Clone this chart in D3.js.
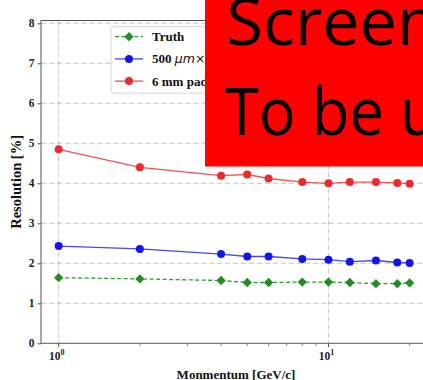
<!DOCTYPE html>
<html>
<head>
<meta charset="utf-8">
<script src="https://cdn.jsdelivr.net/npm/d3@7"></script>
<style>
  html, body { margin: 0; padding: 0; background: #fff; }
  svg { display: block; }
</style>
</head>
<body>
<svg id="chart" width="423" height="380"></svg>
<script>
// Momentum points (GeV/c) and resolution (%) for each readout option
const momentum = [1, 2, 4, 5, 6, 8, 10, 12, 15, 18, 20];
const truthRes = [1.64, 1.61, 1.57, 1.52, 1.52, 1.53, 1.53, 1.52, 1.49, 1.49, 1.51];
const pixelRes = [2.43, 2.36, 2.23, 2.17, 2.17, 2.11, 2.09, 2.04, 2.07, 2.02, 2.01];
const padRes   = [4.85, 4.40, 4.19, 4.22, 4.12, 4.03, 4.00, 4.03, 4.03, 4.01, 3.99];
const yTicks = [0, 1, 2, 3, 4, 5, 6, 7, 8];
const xMajorTicks = [1, 10];
const seriesNames = ["Truth", "500 \u03bcm\u00d7500 \u03bcm pixel", "6 mm pad"];

const svg = d3.select("#chart");
const plot = { left: 41, right: 431, top: 20.5, bottom: 343.3 };

const x = d3.scaleLog().domain([0.86, 24]).range([plot.left, plot.right]);
const y = d3.scaleLinear().domain([0, 8.07]).range([plot.bottom, plot.top]);

const serif = "'Liberation Serif', 'DejaVu Serif', serif";

// grid
const grid = svg.append("g").attr("stroke", "#b8b8b8").attr("stroke-width", 0.8)
  .attr("stroke-dasharray", "5,3");
grid.selectAll("line.h").data(yTicks.filter(d => d > 0)).join("line")
  .attr("x1", plot.left).attr("x2", plot.right)
  .attr("y1", d => y(d)).attr("y2", d => y(d));
grid.selectAll("line.v").data(xMajorTicks).join("line")
  .attr("x1", d => x(d)).attr("x2", d => x(d))
  .attr("y1", plot.top).attr("y2", plot.bottom);

// frame
svg.append("rect")
  .attr("x", plot.left).attr("y", plot.top)
  .attr("width", plot.right - plot.left).attr("height", plot.bottom - plot.top)
  .attr("fill", "none").attr("stroke", "#555").attr("stroke-width", 1);

// y axis
const yAxis = svg.append("g").attr("transform", `translate(${plot.left},0)`)
  .call(d3.axisLeft(y).tickValues(yTicks).tickFormat(d3.format("d")).tickSize(3.5).tickPadding(3));
yAxis.select(".domain").remove();
yAxis.selectAll("line").attr("stroke", "#555");
yAxis.selectAll("text").attr("font-family", serif).attr("font-weight", "bold")
  .attr("font-size", 11.5).attr("fill", "#222");

// x axis: minor ticks plus 10^n labels
const minorTicks = [2, 3, 4, 5, 6, 7, 8, 9, 20];
const xAxis = svg.append("g").attr("transform", `translate(0,${plot.bottom})`);
xAxis.selectAll("line.minor").data(minorTicks).join("line")
  .attr("x1", d => x(d)).attr("x2", d => x(d)).attr("y1", 0).attr("y2", 2.5)
  .attr("stroke", "#555").attr("stroke-width", 0.8);
xAxis.selectAll("line.major").data(xMajorTicks).join("line")
  .attr("x1", d => x(d)).attr("x2", d => x(d)).attr("y1", 0).attr("y2", 4)
  .attr("stroke", "#555");
const xl = xAxis.selectAll("text.major").data(xMajorTicks).join("text")
  .attr("x", d => x(d) - 2).attr("y", 17)
  .attr("text-anchor", "middle")
  .attr("font-family", serif).attr("font-weight", "bold").attr("font-size", 11.5).attr("fill", "#222");
xl.append("tspan").text("10");
xl.append("tspan").attr("font-size", 8).attr("dy", -5).text(d => Math.round(Math.log10(d)));

// axis titles
svg.append("text")
  .attr("x", (plot.left + plot.right) / 2).attr("y", 378.5)
  .attr("text-anchor", "middle")
  .attr("font-family", serif).attr("font-weight", "bold").attr("font-size", 13).attr("fill", "#111")
  .text("Monmentum [GeV/c]");
svg.append("text")
  .attr("transform", `translate(21,${(plot.top + plot.bottom) / 2}) rotate(-90)`)
  .attr("text-anchor", "middle")
  .attr("font-family", serif).attr("font-weight", "bold").attr("font-size", 14.5).attr("fill", "#111")
  .text("Resolution [%]");

// series
const series = [
  { name: seriesNames[0], values: truthRes, line: "#2f9b32", fill: "#1f8f22", dash: "4,2.5", shape: d3.symbolDiamond2, size: 55 },
  { name: seriesNames[1], values: pixelRes, line: "#4646f2", fill: "#1414ee", dash: null, shape: d3.symbolCircle, size: 50 },
  { name: seriesNames[2], values: padRes, line: "#ee5252", fill: "#ea2a2e", dash: null, shape: d3.symbolCircle, size: 50 }
];

const line = d3.line().x(d => x(d[0])).y(d => y(d[1]));
series.forEach(s => {
  const pts = momentum.map((m, i) => [m, s.values[i]]);
  svg.append("path").datum(pts)
    .attr("d", line).attr("fill", "none")
    .attr("stroke", s.line).attr("stroke-width", 1.3)
    .attr("stroke-dasharray", s.dash);
  svg.append("g").selectAll("path").data(pts).join("path")
    .attr("transform", d => `translate(${x(d[0])},${y(d[1])})`)
    .attr("d", d3.symbol(s.shape, s.size))
    .attr("fill", s.fill);
});

// legend
const lg = svg.append("g");
lg.append("rect").attr("x", 111).attr("y", 26.7).attr("width", 200).attr("height", 66.5)
  .attr("rx", 3).attr("fill", "#fff").attr("fill-opacity", 0.9)
  .attr("stroke", "#d6d6d6").attr("stroke-width", 1);
series.forEach((s, i) => {
  const cy = 36.7 + i * 22.2;
  lg.append("line").attr("x1", 115).attr("x2", 143).attr("y1", cy).attr("y2", cy)
    .attr("stroke", s.line).attr("stroke-width", 1.3).attr("stroke-dasharray", s.dash);
  lg.append("path").attr("transform", `translate(129,${cy})`)
    .attr("d", d3.symbol(s.shape, s.size)).attr("fill", s.fill);
  const t = lg.append("text").attr("x", 152).attr("y", cy + 4.5)
    .attr("font-family", serif).attr("font-weight", "bold").attr("font-size", 13).attr("fill", "#111");
  if (i === 1) {
    t.append("tspan").text("500 ");
    t.append("tspan").attr("font-family", "'DejaVu Sans', sans-serif").attr("font-style", "italic")
      .attr("font-weight", "normal").attr("font-size", 12.5).text("\u03bcm\u00d7");
    t.append("tspan").text("500 ");
    t.append("tspan").attr("font-family", "'DejaVu Sans', sans-serif").attr("font-style", "italic")
      .attr("font-weight", "normal").attr("font-size", 12.5).text("\u03bcm");
    t.append("tspan").text(" pixel");
  } else {
    t.text(s.name);
  }
});

// placeholder banner
const banner = { x: 205, y: 0, w: 230, h: 166.7 };
svg.append("clipPath").attr("id", "bannerClip")
  .append("rect").attr("x", banner.x).attr("y", banner.y).attr("width", banner.w).attr("height", banner.h);
const bg = svg.append("g").attr("clip-path", "url(#bannerClip)");
bg.append("rect").attr("x", banner.x).attr("y", banner.y).attr("width", banner.w).attr("height", banner.h)
  .attr("fill", "#ff0000");
// each line is stretched so that the glyph at index `mark` starts `span` px from the left
const bannerLines = [
  { text: "Screenshot", mark: 5, x: 226.5, y: 45, span: 170.5 },
  { text: "To be updated", mark: 6, x: 225, y: 135, span: 175 }
];
bannerLines.forEach(b => {
  const g = bg.append("g").attr("transform", `translate(${b.x},${b.y})`);
  const t = g.append("text")
    .attr("font-family", "'Open Sans', sans-serif").attr("font-size", 66).attr("fill", "#000")
    .text(b.text);
  let sx = 1;
  try {
    const p = t.node().getStartPositionOfChar(b.mark).x;
    if (p > 0) sx = b.span / p;
  } catch (e) { sx = 0.93; }
  t.attr("transform", `scale(${sx},1)`);
});
</script>
</body>
</html>
